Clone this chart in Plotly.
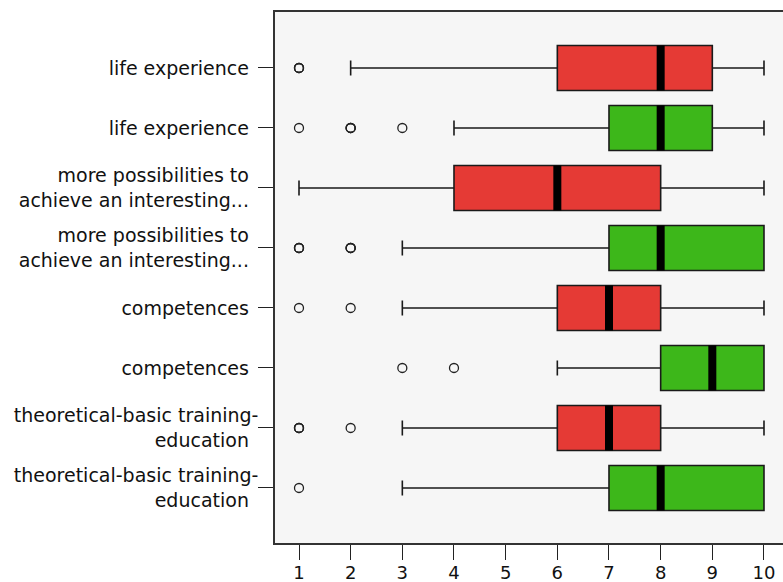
import plotly.graph_objects as go

# Categories, top to bottom (each item shown for two groups)
PAD = "\u2002"
labels = [
    "life experience" + PAD,
    "life experience" + PAD,
    "more possibilities to" + PAD + "<br>achieve an interesting..." + PAD,
    "more possibilities to" + PAD + "<br>achieve an interesting..." + PAD,
    "competences" + PAD,
    "competences" + PAD,
    "theoretical-basic training-<br>education" + PAD,
    "theoretical-basic training-<br>education" + PAD,
]
groups = ["red", "green", "red", "green", "red", "green", "red", "green"]

# Box statistics per row
lower_whisker = [2, 4, 1, 3, 3, 6, 3, 3]
q1 = [6, 7, 4, 7, 6, 8, 6, 7]
median = [8, 8, 6, 8, 7, 9, 7, 8]
q3 = [9, 9, 8, 10, 8, 10, 8, 10]
upper_whisker = [10, 10, 10, 10, 10, 10, 10, 10]

# Outlying responses per row (repeated values are overlapping points)
outliers = [
    [1, 1, 1],
    [1, 2, 2, 2, 3],
    [],
    [1, 1, 1, 2, 2, 2],
    [1, 2],
    [3, 4],
    [1, 1, 1, 2],
    [1],
]

fill_colors = {"red": "#e53a35", "green": "#3db71a"}
box_width = 0.75

positions = list(range(1, len(labels) + 1))

fig = go.Figure()

for pos, grp, lo, a, m, b, hi in zip(positions, groups, lower_whisker, q1, median, q3, upper_whisker):
    fig.add_trace(go.Box(
        orientation="h",
        y=[pos], q1=[a], median=[m], q3=[b],
        lowerfence=[lo], upperfence=[hi],
        width=box_width,
        whiskerwidth=0.33,
        fillcolor=fill_colors[grp],
        line=dict(color="#1a1a1a", width=1.6),
        boxpoints=False,
        hoverinfo="skip",
        showlegend=False,
    ))
    # thick median bar
    fig.add_trace(go.Scatter(
        x=[m, m], y=[pos - box_width / 2, pos + box_width / 2],
        mode="lines", line=dict(color="#000000", width=8),
        hoverinfo="skip", showlegend=False,
    ))

for pos, pts in zip(positions, outliers):
    if not pts:
        continue
    fig.add_trace(go.Scatter(
        x=pts, y=[pos] * len(pts), mode="markers",
        marker=dict(symbol="circle-open", size=9, color="#222222", line=dict(width=1.3)),
        hoverinfo="skip", showlegend=False,
    ))

font = dict(family="DejaVu Sans", size=19, color="#111111")

fig.update_layout(
    width=783, height=582,
    margin=dict(l=275, r=0, t=12, b=39, autoexpand=False),
    paper_bgcolor="#ffffff",
    plot_bgcolor="#f6f6f6",
    font=font,
    xaxis=dict(
        range=[0.5355, 10.368],
        tickvals=list(range(1, 11)),
        ticktext=[str(v) for v in range(1, 11)],
        ticks="outside", ticklen=15, tickwidth=1.3, tickcolor="#222222",
        ticklabelstandoff=-2, automargin=False,
        showgrid=False, zeroline=False,
        showline=True, mirror=True, linecolor="#333333", linewidth=1.5,
        tickfont=dict(family="DejaVu Sans", size=18, color="#111111"),
    ),
    yaxis=dict(
        range=[8.917, 0.067],
        tickvals=positions,
        ticktext=labels,
        ticks="outside", ticklen=15, tickwidth=1.3, tickcolor="#222222",
        ticklabelstandoff=-4, automargin=False,
        showgrid=False, zeroline=False,
        showline=True, mirror=False, linecolor="#333333", linewidth=1.5,
        tickfont=font,
    ),
)

fig.write_html("out.html")
